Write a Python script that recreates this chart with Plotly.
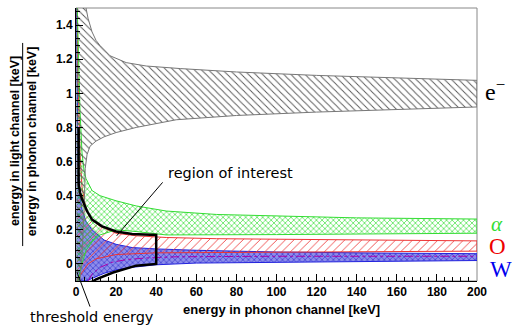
import plotly.graph_objects as go

# ---- data (energy in phonon channel [keV] vs. light yield) ----
# electron band (e-)
EM_UP_X = [0.3, 4, 5, 6, 8, 10, 12, 17, 25, 35, 52, 80, 120, 160, 200]
EM_UP_Y = [1.6, 1.6, 1.5, 1.44, 1.36, 1.31, 1.28, 1.22, 1.18, 1.16, 1.145, 1.125, 1.105, 1.09, 1.076]
EM_LO_X = [0.3, 2, 3, 4, 4.4, 4.6, 5.5, 7, 10, 14, 20, 30, 50, 80, 120, 160, 200]
EM_LO_Y = [-0.1, -0.1, 0.05, 0.3, 0.45, 0.56, 0.64, 0.69, 0.72, 0.745, 0.77, 0.80, 0.845, 0.87, 0.89, 0.905, 0.92]

# alpha band
AL_UP_X = [0.4, 1, 2, 3, 4, 5, 8, 12, 20, 30, 45, 70, 100, 140, 200]
AL_UP_Y = [1.6, 1.3, 0.9, 0.65, 0.55, 0.5, 0.43, 0.4, 0.37, 0.34, 0.31, 0.29, 0.28, 0.27, 0.263]
AL_LO_X = [0.4, 1, 3, 5, 8, 12, 20, 30, 45, 100, 200]
AL_LO_Y = [-0.1, -0.1, 0.0, 0.08, 0.13, 0.17, 0.2, 0.19, 0.17, 0.172, 0.18]

# oxygen band
OX_UP_X = [0.5, 1, 2, 3, 5, 8, 12, 20, 30, 45, 70, 100, 150, 200]
OX_UP_Y = [1.6, 1.1, 0.65, 0.45, 0.32, 0.26, 0.22, 0.18, 0.165, 0.155, 0.148, 0.145, 0.14, 0.135]
OX_LO_X = [0.5, 3, 6, 10, 20, 40, 80, 200]
OX_LO_Y = [-0.1, -0.05, 0.0, 0.03, 0.055, 0.065, 0.07, 0.075]

# tungsten band
W_UP_X = [0.3, 0.6, 1, 2, 3, 5, 8, 14, 20, 28, 40, 60, 100, 150, 200]
W_UP_Y = [1.6, 1.0, 0.6, 0.4, 0.32, 0.25, 0.2, 0.14, 0.115, 0.096, 0.088, 0.08, 0.07, 0.064, 0.06]
W_LO_X = [0.3, 5, 8, 14, 20, 28, 40, 60, 100, 150, 200]
W_LO_Y = [-0.1, -0.1, -0.085, -0.055, -0.035, -0.02, -0.005, 0.005, 0.012, 0.016, 0.02]
W_MEAN_X = [6, 8, 12, 18, 25, 35, 50, 100, 200]
W_MEAN_Y = [-0.1, -0.06, -0.02, 0.01, 0.025, 0.035, 0.042, 0.045, 0.045]

# region of interest outline
ROI_X = [1.3, 1.3, 2, 3, 5.5, 8, 13, 20, 28, 40, 40, 30, 18.5, 10, 6]
ROI_Y = [0.8, 0.47, 0.42, 0.38, 0.31, 0.26, 0.22, 0.19, 0.175, 0.17, 0.0, -0.01, -0.05, -0.09, -0.12]

X_TICKS = [0, 20, 40, 60, 80, 100, 120, 140, 160, 180, 200]
Y_TICKS = [0, 0.2, 0.4, 0.6, 0.8, 1, 1.2, 1.4]


def band(xu, yu, xl, yl):
    return xu + xl[::-1], yu + yl[::-1]


fig = go.Figure()

bx, by = band(W_UP_X, W_UP_Y, W_LO_X, W_LO_Y)
fig.add_trace(go.Scatter(x=bx, y=by, mode="lines", fill="toself",
                         line=dict(color="#2222dd", width=1),
                         fillpattern=dict(shape="x", fgcolor="rgba(40,40,200,0.75)",
                                          bgcolor="rgba(80,80,225,0.65)", size=4,
                                          solidity=0.35, fillmode="replace"),
                         hoverinfo="skip", showlegend=False))

bx, by = band(OX_UP_X, OX_UP_Y, OX_LO_X, OX_LO_Y)
fig.add_trace(go.Scatter(x=bx, y=by, mode="lines", fill="toself",
                         line=dict(color="#ee3333", width=1),
                         fillpattern=dict(shape="/", fgcolor="#ee4444",
                                          size=6, solidity=0.15, fillmode="replace"),
                         hoverinfo="skip", showlegend=False))

bx, by = band(AL_UP_X, AL_UP_Y, AL_LO_X, AL_LO_Y)
fig.add_trace(go.Scatter(x=bx, y=by, mode="lines", fill="toself",
                         line=dict(color="#33dd33", width=1),
                         fillpattern=dict(shape="x", fgcolor="#33dd33",
                                          size=4, solidity=0.3, fillmode="replace"),
                         hoverinfo="skip", showlegend=False))

bx, by = band(EM_UP_X, EM_UP_Y, EM_LO_X, EM_LO_Y)
fig.add_trace(go.Scatter(x=bx, y=by, mode="lines", fill="toself",
                         line=dict(color="#777777", width=1),
                         fillpattern=dict(shape="\\", fgcolor="#555555",
                                          size=5, solidity=0.18, fillmode="replace"),
                         hoverinfo="skip", showlegend=False))

fig.add_trace(go.Scatter(x=W_MEAN_X, y=W_MEAN_Y, mode="lines",
                         line=dict(color="#aa00aa", width=1, dash="dashdot"),
                         hoverinfo="skip", showlegend=False))

fig.add_trace(go.Scatter(x=ROI_X, y=ROI_Y, mode="lines",
                         line=dict(color="black", width=2.5),
                         hoverinfo="skip", showlegend=False))

axis_font = dict(family="Liberation Sans, Arial", size=12, color="black", weight="bold")

fig.update_xaxes(range=[0, 200], tickvals=X_TICKS, ticks="inside", ticklen=7,
                 tickcolor="black", showline=True, linecolor="black", linewidth=1,
                 showgrid=False, zeroline=False, tickfont=axis_font,
                 minor=dict(ticks="inside", dtick=4, ticklen=4, tickcolor="black", showgrid=False))
fig.update_yaxes(range=[-0.1, 1.5], tickvals=Y_TICKS, ticks="inside", ticklen=7,
                 tickcolor="black", showline=True, linecolor="black", linewidth=1,
                 showgrid=False, zeroline=False, tickfont=axis_font,
                 minor=dict(ticks="inside", dtick=0.04, tick0=0, ticklen=4, tickcolor="black", showgrid=False))

title_font = dict(family="Liberation Sans, Arial", size=13, color="black", weight="bold")
ytitle_font = dict(family="Liberation Sans, Arial", size=12.5, color="black", weight="bold")
serif = "Liberation Serif, Times New Roman"
label_font = "DejaVu Sans"

annotations = [
    dict(text="energy in phonon channel [keV]", xref="paper", yref="paper",
         x=0.513, y=-0.1026, xanchor="center", yanchor="middle", showarrow=False, font=title_font),
    dict(text="energy in light channel [keV]", xref="paper", yref="paper",
         x=-0.152, y=0.513, xanchor="center", yanchor="middle", textangle=-90,
         showarrow=False, font=ytitle_font),
    dict(text="energy in phonon channel [keV]", xref="paper", yref="paper",
         x=-0.109, y=0.513, xanchor="center", yanchor="middle", textangle=-90,
         showarrow=False, font=ytitle_font),
    dict(text="e<sup>−</sup>", xref="paper", yref="paper", x=1.045, y=0.70,
         xanchor="center", yanchor="middle", showarrow=False,
         font=dict(family=serif, size=24, color="black")),
    dict(text="<i>α</i>", xref="paper", yref="paper", x=1.05, y=0.21,
         xanchor="center", yanchor="middle", showarrow=False,
         font=dict(family=serif, size=21, color="#33dd33")),
    dict(text="O", xref="paper", yref="paper", x=1.05, y=0.127,
         xanchor="center", yanchor="middle", showarrow=False,
         font=dict(family=serif, size=23, color="#ee0000")),
    dict(text="W", xref="paper", yref="paper", x=1.06, y=0.042,
         xanchor="center", yanchor="middle", showarrow=False,
         font=dict(family=serif, size=23, color="#0000ee")),
    dict(text="region of interest", xref="x", yref="y", x=77.3, y=0.535,
         xanchor="center", yanchor="middle", showarrow=False,
         font=dict(family=label_font, size=14.5, color="black")),
    dict(text="threshold energy", xref="paper", yref="paper", x=0.0387, y=-0.132,
         xanchor="center", yanchor="middle", showarrow=False,
         font=dict(family=label_font, size=14.5, color="black")),
]

shapes = [
    dict(type="rect", xref="paper", yref="paper", x0=0, y0=0, x1=1, y1=1,
         line=dict(color="#888888", width=1), layer="below"),
    dict(type="line", xref="paper", yref="paper", x0=-0.133, x1=-0.133, y0=0.128, y1=0.872,
         line=dict(color="black", width=1)),
    dict(type="line", xref="x", yref="y", x0=43.2, y0=0.478, x1=20.3, y1=0.165,
         line=dict(color="black", width=1)),
    dict(type="line", xref="paper", yref="paper", x0=0.002, y0=0.034, x1=0.035, y1=-0.094,
         line=dict(color="black", width=1)),
]

fig.update_layout(width=512, height=327, margin=dict(l=76, r=35, t=8, b=46),
                  plot_bgcolor="white", paper_bgcolor="white",
                  annotations=annotations, shapes=shapes, showlegend=False)

fig.write_html("out.html", config={"displayModeBar": False},
               post_script="document.body.style.margin='0px';document.body.style.overflow='hidden';")
